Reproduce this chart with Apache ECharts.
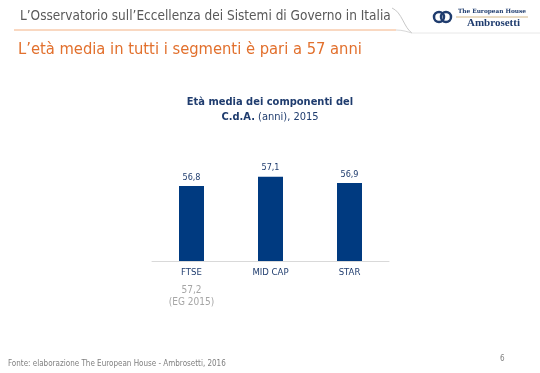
<!DOCTYPE html>
<html><head><meta charset="utf-8">
<script src="https://cdn.jsdelivr.net/npm/echarts@6/dist/echarts.min.js"></script>
<style>html,body{margin:0;padding:0;background:#fff}#c{width:540px;height:373px}</style>
</head><body><div id="c"></div>
<script>
var categories = ['FTSE', 'MID CAP', 'STAR'];
var values = [56.8, 57.1, 56.9];
var benchmarkLabels = ['57,2', '', ''];
var benchmarkNotes = ['(EG 2015)', '', ''];

var F = '"DejaVu Sans Condensed","DejaVu Sans",sans-serif';
var chart = echarts.init(document.getElementById('c'), null, {renderer: 'canvas'});
chart.setOption({
  animation: false,
  backgroundColor: '#ffffff',
  title: {
    left: 270, top: 95, textAlign: 'center', padding: 0,
    text: '{b|Età media dei componenti del}\n{b|C.d.A.}{n| (anni), 2015}',
    textStyle: {
      fontSize: 11,
      rich: {
        b: {fontFamily: F, fontSize: 11, fontWeight: 'bold', color: '#1F3C6E', lineHeight: 15},
        n: {fontFamily: F, fontSize: 11, fontWeight: 'normal', color: '#1F3C6E', lineHeight: 15}
      }
    }
  },
  grid: {left: 152, width: 237, top: 136, bottom: 112, containLabel: false},
  xAxis: {
    type: 'category', data: categories,
    axisLine: {lineStyle: {color: '#D9D9D9', width: 1}},
    axisTick: {show: false},
    axisLabel: {
      margin: 6, interval: 0,
      formatter: function (v, i) {
        var s = '{c|' + v + '}';
        if (benchmarkLabels[i]) s += '\n{s| }\n{g|' + benchmarkLabels[i] + '}\n{g|' + benchmarkNotes[i] + '}';
        return s;
      },
      rich: {
        c: {fontFamily: F, fontSize: 9.5, color: '#1F3C6E', lineHeight: 12},
        s: {fontSize: 1, lineHeight: 5},
        g: {fontFamily: F, fontSize: 10, color: '#A6A6A6', lineHeight: 12}
      }
    }
  },
  yAxis: {type: 'value', min: 54.4, max: 58.4, show: false, splitLine: {show: false}},
  series: [{
    type: 'bar', data: values, barWidth: 25,
    itemStyle: {color: '#003A80'},
    label: {
      show: true, position: 'top', distance: 4,
      fontFamily: F, fontSize: 9, color: '#1F3C6E',
      formatter: function (p) { return p.value.toFixed(1).replace('.', ','); }
    }
  }],
  graphic: [
    {type: 'text', left: 20, top: 9, style: {text: 'L\u2019Osservatorio sull\u2019Eccellenza dei Sistemi di Governo in Italia', fontFamily: F, fontSize: 13.5, fill: '#595959'}},
    {type: 'line', shape: {x1: 14, y1: 30, x2: 396, y2: 30}, style: {stroke: '#F4B183', lineWidth: 1}},
    {type: 'bezierCurve', shape: {x1: 392, y1: 8, cpx1: 402, cpy1: 12, cpx2: 404, cpy2: 28, x2: 412, y2: 33}, style: {stroke: '#C8C8C8', lineWidth: 1, fill: null}},
    {type: 'bezierCurve', shape: {x1: 396, y1: 30, cpx1: 403, cpy1: 30, cpx2: 408, cpy2: 32, x2: 412, y2: 33}, style: {stroke: '#D8D8D8', lineWidth: 1, fill: null}},
    {type: 'line', shape: {x1: 412, y1: 33, x2: 540, y2: 33}, style: {stroke: '#E8E8E8', lineWidth: 1}},
    {type: 'text', left: 18, top: 42, style: {text: 'L\u2019età media in tutti i segmenti è pari a 57 anni', fontFamily: F, fontSize: 16.4, fill: '#E2702D'}},
    {type: 'circle', shape: {cx: 439, cy: 17, r: 5}, style: {stroke: '#1F3C6E', lineWidth: 2.5, fill: null}},
    {type: 'circle', shape: {cx: 446, cy: 17, r: 5}, style: {stroke: '#1F3C6E', lineWidth: 2.5, fill: null}},
    {type: 'text', left: 458, top: 8, style: {text: 'The European House', fontFamily: '"DejaVu Serif","Liberation Serif",serif', fontSize: 5.8, fontWeight: 'bold', fill: '#1F3C6E'}},
    {type: 'line', shape: {x1: 456, y1: 17, x2: 528, y2: 17}, style: {stroke: '#C9A66B', lineWidth: 0.8}},
    {type: 'text', left: 467, top: 18, style: {text: 'Ambrosetti', fontFamily: '"Liberation Serif",serif', fontSize: 11, fontWeight: 'bold', fill: '#1F3C6E'}},
    {type: 'text', left: 8, top: 360, style: {text: 'Fonte: elaborazione The European House - Ambrosetti, 2016', fontFamily: F, fontSize: 8, fill: '#7F7F7F'}},
    {type: 'text', left: 500, top: 355, style: {text: '6', fontFamily: F, fontSize: 8, fill: '#7F7F7F'}}
  ]
});
</script></body></html>
